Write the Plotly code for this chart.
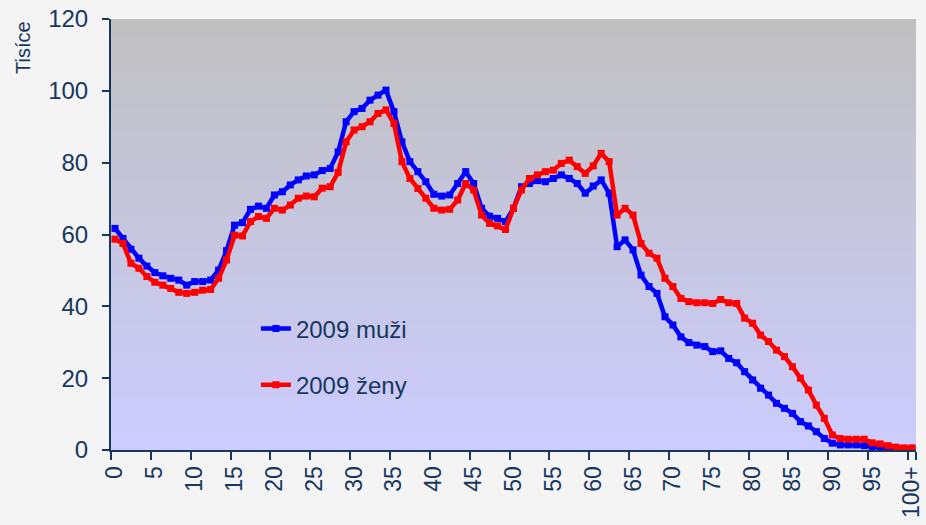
import numpy as np
import plotly.graph_objects as go

ages = list(range(0, 101))
age_labels = [str(a) for a in range(0, 100, 5)] + ["100+"]
age_label_pos = list(range(0, 101, 5))

muzi = [61.7, 58.9, 55.9, 53.4, 51.2, 49.4, 48.5, 47.8, 47.3, 45.9,
        46.9, 46.9, 47.3, 50.1, 55.5, 62.6, 63.3, 67.0, 67.9, 67.3,
        71.0, 71.9, 73.8, 75.2, 76.3, 76.6, 77.8, 78.4, 83.0, 91.4,
        94.2, 95.1, 97.4, 98.8, 100.2, 94.2, 85.8, 80.3, 77.5, 74.7,
        71.2, 70.7, 71.0, 74.2, 77.5, 74.2, 67.3, 65.1, 64.5, 63.6,
        67.3, 73.3, 74.2, 75.0, 74.7, 75.6, 76.6, 75.6, 74.2, 71.5,
        73.5, 75.2, 71.5, 56.6, 58.5, 55.7, 48.7, 45.5, 43.6, 37.1,
        34.8, 31.5, 29.9, 29.2, 28.8, 27.4, 27.6, 25.5, 24.3, 21.8,
        19.5, 17.2, 15.3, 13.0, 11.6, 10.2, 7.9, 6.7, 5.1, 3.2,
        1.9, 1.4, 1.4, 1.4, 1.2, 0.9, 0.7, 0.5, 0.3, 0.3,
        0.2]

zeny = [58.7, 57.5, 52.0, 50.6, 48.3, 46.7, 45.9, 45.0, 43.9, 43.6,
        43.9, 44.5, 44.7, 47.8, 52.9, 59.8, 59.6, 63.6, 65.0, 64.5,
        67.3, 66.8, 68.2, 70.1, 70.7, 70.5, 72.9, 73.3, 77.3, 85.8,
        89.1, 90.0, 91.4, 93.7, 94.7, 90.9, 80.3, 75.6, 72.8, 70.1,
        67.3, 66.8, 67.0, 69.6, 74.2, 72.4, 65.4, 63.1, 62.4, 61.4,
        67.3, 72.4, 75.6, 76.6, 77.5, 77.9, 79.8, 80.7, 78.9, 77.0,
        79.1, 82.6, 80.3, 65.4, 67.3, 65.4, 57.5, 54.8, 53.4, 47.8,
        45.5, 42.2, 41.3, 41.0, 41.0, 40.8, 41.9, 41.0, 40.8, 36.7,
        35.3, 32.0, 30.2, 27.8, 26.0, 23.2, 20.0, 16.7, 12.5, 8.8,
        4.2, 3.2, 3.0, 3.0, 3.0, 2.0, 1.7, 1.2, 0.8, 0.6,
        0.6]

y_ticks = [0, 20, 40, 60, 80, 100, 120]

NAVY = "#17375E"
FONT = "Liberation Sans, Arial, sans-serif"
PAGE_BG = "#F4F4F4"

fig = go.Figure()

# gradient plot background
grad_y = np.linspace(0, 120, 61)
fig.add_trace(go.Heatmap(
    x=[-0.5, 100.5], y=grad_y, z=[[v] for v in grad_y],
    colorscale=[[0, "#CCCCFF"], [1, "#C0C0C0"]],
    showscale=False, hoverinfo="skip", zsmooth="best", showlegend=False,
))

fig.add_trace(go.Scatter(
    x=ages, y=muzi, name="2009 muži", mode="lines+markers",
    line=dict(color="#0000FF", width=4.5),
    marker=dict(symbol="square", size=7, color="#0000FF"),
    legendgroup="m",
))
fig.add_trace(go.Scatter(
    x=ages, y=zeny, name="2009 ženy", mode="lines+markers",
    line=dict(color="#FF0000", width=4.5),
    marker=dict(symbol="square", size=7, color="#FF0000"),
    legendgroup="z",
))

fig.update_layout(
    width=926, height=525,
    margin=dict(l=111, r=10, t=19, b=75),
    paper_bgcolor=PAGE_BG,
    plot_bgcolor="#C6C6E0",
    font=dict(family=FONT, size=24, color=NAVY),
    legend=dict(
        x=0.18, y=0.333, xanchor="left", yanchor="top",
        bgcolor="rgba(0,0,0,0)", tracegroupgap=22,
        font=dict(size=24, color=NAVY),
    ),
    xaxis=dict(
        range=[-0.5, 100.5], tickmode="array", tickvals=age_label_pos,
        ticktext=age_labels, tickangle=-90, ticks="",
        showline=True, linecolor=NAVY, linewidth=2, showgrid=False,
        zeroline=False, tickfont=dict(size=23, color=NAVY),
        ticklabelstandoff=5, ticklabeloverflow="allow", automargin=False,
        minor=dict(tickmode="array",
                   tickvals=[p - 0.5 for p in age_label_pos] + [100.5],
                   ticks="outside", ticklen=8, tickcolor=NAVY, tickwidth=1.5,
                   showgrid=False),
    ),
    yaxis=dict(
        range=[0, 120], tickmode="array", tickvals=y_ticks,
        ticks="outside", ticklen=7, tickcolor=NAVY, tickwidth=1.5,
        showline=True, linecolor=NAVY, linewidth=2, showgrid=False,
        zeroline=False, tickfont=dict(size=24, color=NAVY),
        ticklabelstandoff=9, automargin=False,
    ),
    annotations=[dict(
        text="Tisíce", textangle=-90, xref="paper", yref="paper",
        x=-0.11, y=1.0, xanchor="center", yanchor="top",
        showarrow=False, font=dict(size=20, color=NAVY),
    )],
)

fig.write_html(
    "out.html",
    config={"displayModeBar": False},
    post_script="document.documentElement.style.overflow='hidden';"
                "document.body.style.overflow='hidden';"
                "document.body.style.margin='0px';"
                "document.body.style.background='" + PAGE_BG + "';",
)
